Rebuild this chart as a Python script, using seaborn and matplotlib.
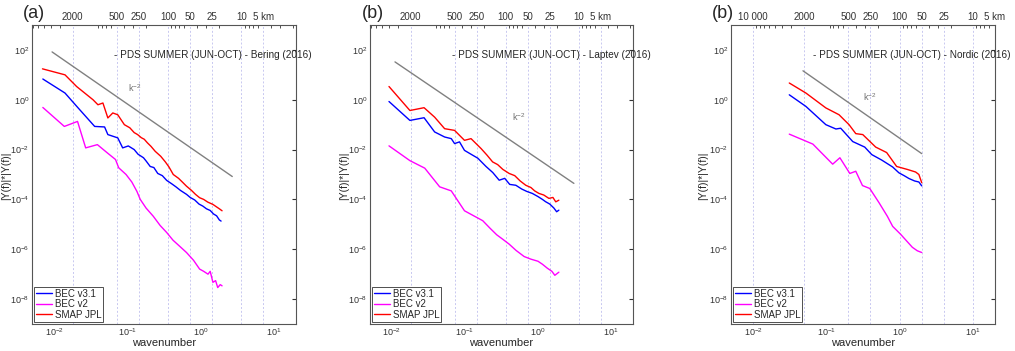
import matplotlib
matplotlib.use("Agg")
import matplotlib.pyplot as plt
import seaborn as sns

# ---- data (wavenumber, power) ----
# panel (a) Bering
bering_k_v31 = [0.00703, 0.0141, 0.0213, 0.0358, 0.0489, 0.0542, 0.074, 0.0863, 0.103, 0.124, 0.14, 0.166,
                0.18, 0.205, 0.23, 0.26, 0.3, 0.344, 0.4, 0.46, 0.53, 0.641, 0.72, 0.83, 0.95, 1.07, 1.2,
                1.35, 1.5, 1.65, 1.8, 1.9]
bering_v31 = [6.8, 1.86, 0.47, 0.085, 0.081, 0.04, 0.0295, 0.0117, 0.014, 0.01, 0.0065, 0.0047,
              0.0035, 0.0021, 0.0019, 0.0011, 9e-4, 5.8e-4, 4.3e-4, 3.2e-4, 2.3e-4, 1.6e-4, 1.2e-4, 9.5e-5,
              6.5e-5, 5.4e-5, 4.2e-5, 3.6e-5, 2.6e-5, 2.2e-5, 1.5e-5, 1.35e-5]
bering_k_v2 = [0.00703, 0.0138, 0.0209, 0.027, 0.039, 0.0532, 0.0689, 0.0762, 0.096, 0.115, 0.135, 0.15,
               0.18, 0.226, 0.28, 0.344, 0.42, 0.52, 0.641, 0.8, 0.968, 1.1, 1.26, 1.35, 1.47, 1.6, 1.71,
               1.85, 1.96]
bering_v2 = [0.49, 0.085, 0.135, 0.0117, 0.0158, 0.0074, 0.004, 0.00186, 0.001, 5e-4, 2.1e-4, 1e-4,
             4.5e-5, 2.1e-5, 9e-6, 4.7e-6, 2.3e-6, 1.3e-6, 7.4e-7, 3.6e-7, 1.6e-7, 1.3e-7, 1e-7, 1.3e-7,
             4.7e-8, 5.5e-8, 2.9e-8, 3.8e-8, 3.4e-8]
bering_k_smap = [0.00695, 0.0141, 0.0203, 0.034, 0.0397, 0.0464, 0.0542, 0.0633, 0.0739, 0.091, 0.108,
                 0.124, 0.138, 0.155, 0.17, 0.188, 0.21, 0.24, 0.285, 0.33, 0.37, 0.423, 0.5, 0.57, 0.641,
                 0.75, 0.85, 0.968, 1.1, 1.25, 1.47, 1.65, 1.8, 1.96]
bering_smap = [17.4, 10, 3.4, 1.0, 0.63, 0.74, 0.186, 0.295, 0.25, 0.1, 0.075, 0.048, 0.04, 0.03, 0.026,
               0.0186, 0.0135, 0.0085, 0.0054, 0.0032, 0.002, 0.001, 7e-4, 4.8e-4, 3.4e-4, 2.3e-4,
               1.6e-4, 1.17e-4, 1e-4, 7.8e-5, 6.3e-5, 5e-5, 4.2e-5, 3.5e-5]

# panel (b) Laptev
laptev_k_v31 = [0.0091, 0.0176, 0.0275, 0.0384, 0.0526, 0.0649, 0.072, 0.0841, 0.0984, 0.128, 0.15, 0.194,
                0.24, 0.294, 0.35, 0.41, 0.497, 0.6, 0.7, 0.836, 1.0, 1.15, 1.27, 1.45, 1.65, 1.8, 1.93]
laptev_v31 = [0.85, 0.148, 0.19, 0.051, 0.032, 0.0275, 0.0174, 0.0204, 0.0093, 0.0059, 0.0045, 0.0021,
              0.0012, 5.9e-4, 7e-4, 4e-4, 3.7e-4, 2.6e-4, 2.1e-4, 1.74e-4, 1.3e-4, 1.0e-4, 8.1e-5, 6.5e-5,
              4.5e-5, 3.2e-5, 3.7e-5]
laptev_k_v2 = [0.0091, 0.0176, 0.0281, 0.045, 0.0649, 0.0759, 0.0984, 0.128, 0.175, 0.22, 0.272, 0.33,
               0.403, 0.5, 0.646, 0.8, 1.0, 1.15, 1.34, 1.55, 1.7, 1.93]
laptev_v2 = [0.0141, 0.0036, 0.0018, 3.2e-4, 2.2e-4, 1.1e-4, 3.5e-5, 2.3e-5, 1.4e-5, 7e-6, 3.8e-6,
             2.5e-6, 1.6e-6, 9e-7, 5.1e-7, 4e-7, 3.3e-7, 2.5e-7, 1.74e-7, 1.3e-7, 9e-8, 1.2e-7]
laptev_k_smap = [0.0091, 0.0176, 0.0275, 0.0384, 0.0526, 0.072, 0.0984, 0.121, 0.166, 0.2, 0.239, 0.28,
                 0.33, 0.403, 0.48, 0.57, 0.68, 0.8, 0.9, 1.03, 1.2, 1.41, 1.6, 1.75, 1.93]
laptev_smap = [3.4, 0.37, 0.48, 0.2, 0.069, 0.059, 0.0235, 0.0275, 0.011, 0.006, 0.0032, 0.0025,
               0.0016, 1.1e-3, 9e-4, 5.5e-4, 3.7e-4, 3e-4, 2.2e-4, 1.74e-4, 1.5e-4, 1.1e-4, 1.2e-4,
               8e-5, 9.3e-5]

# panel (c) Nordic
nordic_k_v31 = [0.0312, 0.0526, 0.0984, 0.135, 0.157, 0.229, 0.334, 0.416, 0.569, 0.803, 0.977, 1.15,
                1.34, 1.6, 1.83, 2.0]
nordic_v31 = [1.58, 0.54, 0.1, 0.067, 0.072, 0.021, 0.0126, 0.0063, 0.0038, 0.002, 1.17e-3, 9e-4,
              6.9e-4, 5.5e-4, 5e-4, 3.5e-4]
nordic_k_v2 = [0.0312, 0.0655, 0.122, 0.153, 0.209, 0.252, 0.311, 0.391, 0.523, 0.68, 0.803, 1.03, 1.49,
               1.74, 2.0]
nordic_v2 = [0.0417, 0.0166, 0.0026, 0.0047, 1.1e-3, 1.35e-3, 3.6e-4, 2.75e-4, 7.4e-5, 2.1e-5, 8.3e-6,
             4e-6, 1.2e-6, 8.7e-7, 7.4e-7]
nordic_k_smap = [0.0312, 0.0526, 0.0984, 0.149, 0.204, 0.252, 0.314, 0.471, 0.665, 0.91, 1.27, 1.65,
                 1.83, 2.0]
nordic_smap = [4.7, 1.86, 0.47, 0.25, 0.1, 0.0437, 0.04, 0.0126, 0.0076, 0.0021, 1.6e-3, 1.26e-3,
               1e-3, 4.7e-4]

# k^-2 guide lines (end points)
guide_k = [[0.0094, 2.7], [0.011, 3.1], [0.048, 2.0]]
guide_p = [[83, 8.3e-4], [33, 4.4e-4], [14.5, 6.9e-3]]

panel_tags = ["(a)", "(b)", "(b)"]
regions = ["Bering", "Laptev", "Nordic"]
km_scale = [36.0, 36.0, 100.0]
km_ticks = [[2000, 500, 250, 100, 50, 25, 10, 5],
            [2000, 500, 250, 100, 50, 25, 10, 5],
            [10000, 2000, 500, 250, 100, 50, 25, 10, 5]]
km_labels = [["2000", "500", "250", "100", "50", "25", "10", "5 km"],
             ["2000", "500", "250", "100", "50", "25", "10", "5 km"],
             ["10 000", "2000", "500", "250", "100", "50", "25", "10", "5 km"]]
series_names = ["BEC v3.1", "BEC v2", "SMAP JPL"]
series_colors = ["#0000ff", "#ff00ff", "#ff0000"]

panels = [
    [(bering_k_v31, bering_v31), (bering_k_v2, bering_v2), (bering_k_smap, bering_smap)],
    [(laptev_k_v31, laptev_v31), (laptev_k_v2, laptev_v2), (laptev_k_smap, laptev_smap)],
    [(nordic_k_v31, nordic_v31), (nordic_k_v2, nordic_v2), (nordic_k_smap, nordic_smap)],
]

sns.set_style("white")
plt.rcParams["font.family"] = ["Liberation Sans", "DejaVu Sans"]

fig = plt.figure(figsize=(10.15, 3.51), dpi=100)
lefts = [32, 370, 731]
widths = [264, 263, 264]
tag_x = [23, 362, 712]
ylab_x = [6, 344, 703]

for i in range(3):
    ax = fig.add_axes([lefts[i] / 1015, 27 / 351, widths[i] / 1015, 299 / 351])
    C = km_scale[i]
    for w in km_ticks[i]:
        ax.axvline(C / w, color="#c8c8f0", lw=0.7, ls=(0, (2, 2)), zorder=0)

    for (k, p), name, col in zip(panels[i], series_names, series_colors):
        sns.lineplot(x=k, y=p, ax=ax, color=col, lw=1.0, label=name, sort=False, estimator=None)
    ax.plot(guide_k[i], guide_p[i], color="#808080", lw=1.0)

    ax.set_xscale("log")
    ax.set_yscale("log")
    ax.set_xlim(0.005, 20)
    ax.set_ylim(1e-9, 1e3)
    ax.set_yticks([1e2, 1e0, 1e-2, 1e-4, 1e-6, 1e-8])
    ax.yaxis.set_minor_locator(matplotlib.ticker.NullLocator())
    ax.set_xticks([1e-2, 1e-1, 1e0, 1e1])
    ax.tick_params(axis="both", which="both", direction="in", labelsize=6.5, pad=2,
                   colors="#333333", right=True)
    ax.tick_params(which="major", length=3)
    ax.tick_params(which="minor", length=1.5)
    for s in ax.spines.values():
        s.set_color("#555555")
        s.set_linewidth(0.8)

    ax.set_xlabel("wavenumber", fontsize=8, labelpad=0)
    ax.set_ylabel("")
    fig.text(ylab_x[i] / 1015, 0.5, "|Y(f)|*|Y(f)|", rotation=90, fontsize=7.5,
             va="center", ha="center")

    sec = ax.secondary_xaxis("top", functions=(lambda x, C=C: C / x, lambda x, C=C: C / x))
    sec.set_xticks(km_ticks[i], labels=km_labels[i])
    sec.tick_params(axis="x", which="both", direction="in", labelsize=7, pad=2, colors="#333333")
    sec.tick_params(which="major", length=0)
    sec.tick_params(which="minor", length=2)
    sec.spines["top"].set_visible(False)

    ax.text(0.31, 0.9, "- PDS SUMMER (JUN-OCT) - " + regions[i] + " (2016)",
            transform=ax.transAxes, fontsize=7.2, va="center", ha="left", clip_on=False)
    kx = [0.364, 0.54, 0.5][i]
    ky = [0.789, 0.692, 0.759][i]
    ax.text(kx, ky, r"$\mathregular{k^{-2}}$", transform=ax.transAxes, fontsize=6.5,
            color="#707070", ha="left", va="center")

    leg = ax.legend(loc="lower left", fontsize=7, frameon=True, fancybox=False, framealpha=1,
                    edgecolor="#333333", borderpad=0.2, labelspacing=0.05, handlelength=1.6,
                    handletextpad=0.3, borderaxespad=0.25)
    leg.get_frame().set_linewidth(0.6)

    fig.text(tag_x[i] / 1015, 1 - 5 / 351, panel_tags[i], fontsize=13, va="top", ha="left")

fig.savefig("out.png", dpi=100)
